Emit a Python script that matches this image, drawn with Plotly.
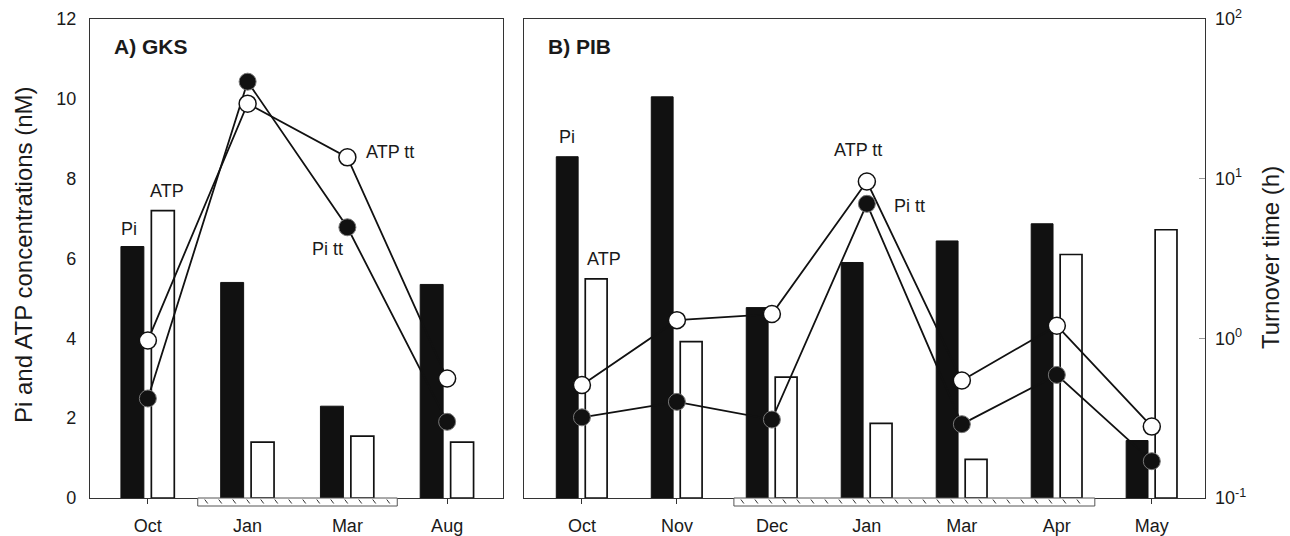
import plotly.graph_objects as go

# ---------------- data ----------------
gks_months = ["Oct", "Jan", "Mar", "Aug"]
gks_pi = [6.3, 5.4, 2.3, 5.35]
gks_atp = [7.2, 1.4, 1.55, 1.4]
gks_pi_tt = [0.42, 40.5, 4.96, 0.30]
gks_atp_tt = [0.97, 29.5, 13.6, 0.56]
gks_period = [0.5, 2.5]

pib_months = ["Oct", "Nov", "Dec", "Jan", "Mar", "Apr", "May"]
pib_pi = [8.55, 10.05, 4.77, 5.9, 6.44, 6.87, 1.44]
pib_atp = [5.49, 3.92, 3.03, 1.87, 0.97, 6.1, 6.72]
pib_pi_tt = [0.32, 0.40, 0.31, 6.96, 0.29, 0.59, 0.17]
pib_atp_tt = [0.51, 1.30, 1.42, 9.6, 0.545, 1.2, 0.28]
pib_period = [1.6, 5.4]

log_tickvals = [0.1, 1, 10, 100]
log_ticktext = ["10<sup>-1</sup>", "10<sup>0</sup>", "10<sup>1</sup>", "10<sup>2</sup>"]

# ---------------- layout geometry ----------------
W, H = 1290, 536
ML, MR, MT, MB = 90, 85, 19, 38
PW, PH = W - ML - MR, H - MT - MB
FONT = "Liberation Sans, Arial, Helvetica, sans-serif"
AX = "#333333"
TXT = "#1a1a1a"

xr1 = [-0.58, 3.56]
xr2 = [-0.61, 6.56]
dom1 = [0, 413 / PW]
dom2 = [434 / PW, 1]

BW, OFF_PI, OFF_ATP = 0.23, -0.27, 0.035

fig = go.Figure()


def add_panel(months, pi, atp, pi_tt, atp_tt, xa, ya, ya_log):
    fig.add_trace(go.Bar(x=months, y=pi, xaxis=xa, yaxis=ya, width=BW, offset=OFF_PI,
                         marker=dict(color="#111111", line=dict(color="#111111", width=1)),
                         showlegend=False))
    fig.add_trace(go.Bar(x=months, y=atp, xaxis=xa, yaxis=ya, width=BW, offset=OFF_ATP,
                         marker=dict(color="white", line=dict(color="#111111", width=1.7)),
                         showlegend=False))
    for vals in (atp_tt, pi_tt):
        fig.add_trace(go.Scatter(x=months, y=vals, xaxis=xa, yaxis=ya_log, mode="lines",
                                 line=dict(color="#111111", width=1.8), showlegend=False))
    fig.add_trace(go.Scatter(x=months, y=atp_tt, xaxis=xa, yaxis=ya_log, mode="markers",
                             marker=dict(size=17, color="white", line=dict(color="#111111", width=1.5)),
                             showlegend=False))
    fig.add_trace(go.Scatter(x=months, y=pi_tt, xaxis=xa, yaxis=ya_log, mode="markers",
                             marker=dict(size=17, color="#111111", line=dict(color="#777777", width=1)),
                             showlegend=False))


add_panel(gks_months, gks_pi, gks_atp, gks_pi_tt, gks_atp_tt, "x", "y", "y2")
add_panel(pib_months, pib_pi, pib_atp, pib_pi_tt, pib_atp_tt, "x2", "y3", "y4")

# hatched period bars below the x axes
rect_h = 8 / PH
shapes = []
for xref, period, xr, dom in (("x", gks_period, xr1, dom1), ("x2", pib_period, xr2, dom2)):
    shapes.append(dict(type="rect", xref=xref, yref="paper", x0=period[0], x1=period[1],
                       y0=-rect_h, y1=0, fillcolor="white", line=dict(color="#555555", width=1),
                       layer="above"))
    units_per_px = (xr[1] - xr[0]) / ((dom[1] - dom[0]) * PW)
    step = 14 * units_per_px
    x = period[0] + 0.5 * step
    while x < period[1] - 0.3 * step:
        shapes.append(dict(type="line", xref=xref, yref="paper", x0=x, x1=x + 3 * units_per_px,
                           y0=-1.5 / PH, y1=-5.5 / PH, line=dict(color="#333333", width=1),
                           layer="above"))
        x += step

fig.update_layout(shapes=shapes)


def px2paper(px, py):
    return (px - ML) / PW, (H - MB - py) / PH


annots = []


def txt(text, px, py, size=18, bold=False, anchor="center", angle=0):
    x, y = px2paper(px, py)
    annots.append(dict(text=f"<b>{text}</b>" if bold else text, x=x, y=y, xref="paper", yref="paper",
                       xanchor=anchor, yanchor="middle", showarrow=False, textangle=angle,
                       font=dict(family=FONT, size=size, color=TXT)))


txt("A) GKS", 112, 46, size=21, bold=True, anchor="left")
txt("B) PIB", 546, 46, size=21, bold=True, anchor="left")
txt("Pi", 129, 229)
txt("ATP", 167, 191)
txt("ATP tt", 390, 152)
txt("Pi tt", 327, 249)
txt("Pi", 567, 137)
txt("ATP", 604, 259)
txt("ATP tt", 858, 150)
txt("Pi tt", 909, 206)
txt("Pi and ATP concentrations (nM)", 24, 255, size=24, angle=-90)
txt("Turnover time (h)", 1270, 258, size=24, angle=-90)

common_x = dict(showline=True, linecolor=AX, linewidth=1.2, mirror=True, ticks="outside",
                ticklen=5, tickcolor=AX, tickfont=dict(family=FONT, size=18, color=TXT),
                ticklabelstandoff=6, showgrid=False, zeroline=False, type="category",
                automargin=False)

fig.update_layout(
    width=W, height=H, margin=dict(l=ML, r=MR, t=MT, b=MB, pad=0, autoexpand=False),
    paper_bgcolor="white", plot_bgcolor="white", barmode="overlay",
    annotations=annots,
    xaxis=dict(domain=dom1, range=xr1, anchor="y", **common_x),
    xaxis2=dict(domain=dom2, range=xr2, anchor="y3", **common_x),
    yaxis=dict(domain=[0, 1], range=[0, 12], dtick=2, anchor="x", showline=True, linecolor=AX,
               linewidth=1.2, mirror=True, ticks="", showgrid=False, zeroline=False,
               tickfont=dict(family=FONT, size=18, color=TXT), ticklabelstandoff=9,
               automargin=False),
    yaxis2=dict(type="log", range=[-1, 2], overlaying="y", anchor="x", visible=False,
                automargin=False),
    yaxis3=dict(domain=[0, 1], range=[0, 12], anchor="x2", showline=True, linecolor=AX,
                linewidth=1.2, mirror=True, ticks="", showticklabels=False, showgrid=False,
                zeroline=False, automargin=False),
    yaxis4=dict(type="log", range=[-1, 2], overlaying="y3", anchor="x2", side="right",
                showline=False, ticks="inside", ticklen=6, tickcolor="#999999",
                tickvals=log_tickvals, ticktext=log_ticktext, showgrid=False, zeroline=False,
                tickfont=dict(family=FONT, size=18, color=TXT), ticklabelstandoff=9,
                automargin=False),
)

fig.write_html("out.html")
